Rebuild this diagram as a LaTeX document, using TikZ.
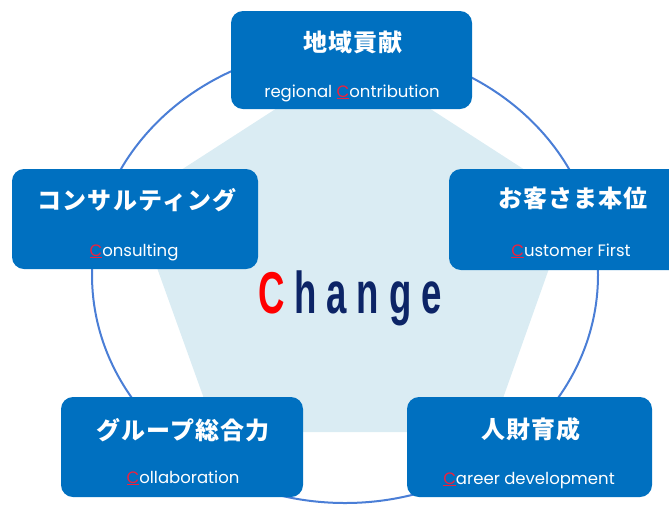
\documentclass[tikz,border=0pt]{standalone}
\usepackage{fontspec}
\usepackage{graphicx}
\setmainfont{Poppins}
\newfontfamily\jpfont{Noto Sans CJK JP}[LetterSpace=5]
\newfontfamily\chgfont{Liberation Sans}
\definecolor{boxblue}{HTML}{0070C0}
\definecolor{ringblue}{HTML}{4A7ED6}
\definecolor{pentfill}{HTML}{DAECF3}
\definecolor{navy}{HTML}{0C2466}
\definecolor{cred}{HTML}{F0203C}
\tikzset{
  card/.style={fill=boxblue, draw=none, rounded corners=12pt},
  jtitle/.style={text=white, font=\jpfont\bfseries\fontsize{24}{27}\selectfont, inner sep=0pt},
  etitle/.style={text=white, font=\fontsize{16.5}{18}\selectfont, inner sep=0pt, anchor=base},
}
\newcommand{\redC}{\textcolor{cred}{\underline{C}}}
\begin{document}
\begin{tikzpicture}[x=1pt,y=-1pt]
\useasboundingbox (0,0) rectangle (669,507);
% pentagon
\fill[pentfill] (353,59) -- (573,201) -- (491,432) -- (216,432) -- (133,201) -- cycle;
% ring
\draw[ringblue, line width=2pt] (345,275) ellipse [x radius=253, y radius=228];
% boxes
\path[card] (231,11) rectangle (472,109);
\path[card] (12,169) rectangle (258,269);
\path[card] (449,169) rectangle (700,270);
\path[card] (61,397) rectangle (303,497);
\path[card] (407,397) rectangle (652,497);
% titles
\node[jtitle] (t1) at (353,42) {地域貢献};
\node[jtitle] (t2) at (137,200) {コンサルティング};
\node[jtitle] (t3) at (573,198) {お客さま本位};
\node[jtitle] (t4) at (183,430) {グループ総合力};
\node[jtitle] (t5) at (531,429) {人財育成};
% english
\node[etitle] (e1) at (352,97) {regional \redC ontribution};
\node[etitle] (e2) at (134,256) {\redC onsulting};
\node[etitle] (e3) at (571,256) {\redC ustomer First};
\node[etitle] (e4) at (183,483) {\redC ollaboration};
\node[etitle] (e5) at (529,484) {\redC areer development};
% Change
\node[inner sep=0pt, anchor=base] (chg) at (350,313) {\scalebox{0.62}[1]{\chgfont\bfseries\fontsize{59}{60}\selectfont\textcolor{red}{C}\kern16pt\textcolor{navy}{h\kern16pt a\kern16pt n\kern16pt g\kern16pt e}}};
\end{tikzpicture}
\end{document}
